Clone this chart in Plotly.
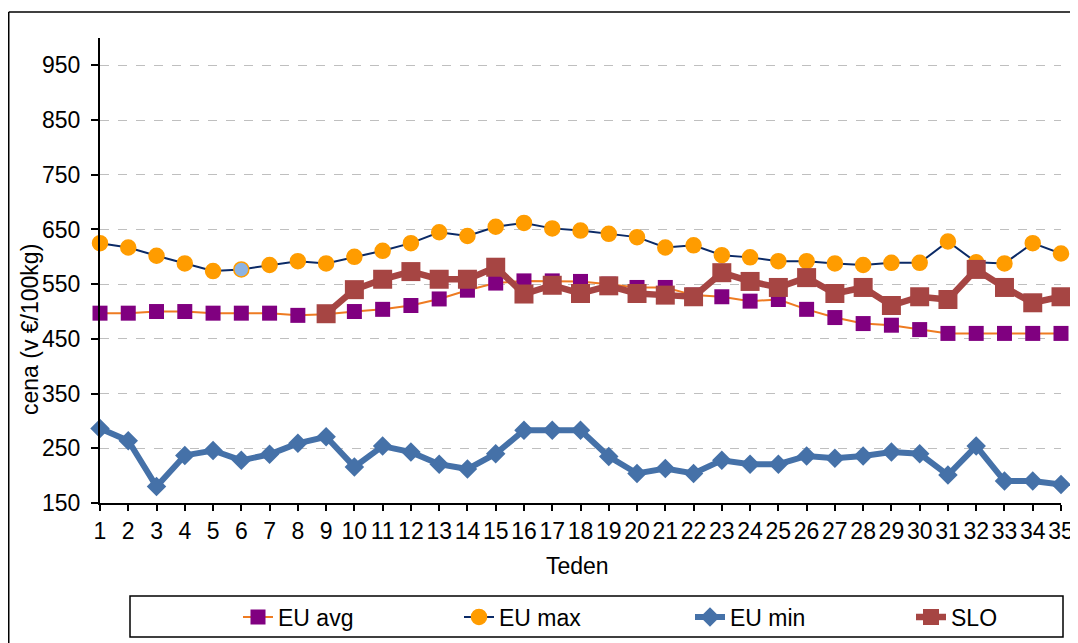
import plotly.graph_objects as go

weeks = list(range(1, 36))
week_labels = [str(w) for w in weeks]

eu_avg = [497, 497, 500, 500, 497, 497, 497, 493, 495, 500,
          504, 511, 523, 539, 552, 556, 556, 555, 550, 544,
          544, 530, 527, 519, 522, 504, 489, 478, 475, 467,
          460, 460, 460, 460, 460]

eu_max = [625, 617, 602, 588, 574, 577, 585, 592, 588, 600,
          611, 625, 645, 638, 655, 662, 652, 648, 642, 636,
          617, 621, 603, 599, 592, 592, 588, 585, 589, 589,
          628, 590, 588, 625, 606]

eu_min = [286, 264, 180, 237, 246, 228, 239, 259, 271, 216,
          254, 243, 221, 212, 240, 283, 283, 283, 235, 204,
          213, 204, 228, 221, 221, 236, 232, 236, 243, 240,
          201, 254, 190, 190, 184]

slo = [None, None, None, None, None, None, None, None, 496, 540,
       559, 573, 559, 559, 581, 532, 548, 533, 547, 533,
       530, 527, 571, 555, 544, 562, 533, 544, 511, 527,
       522, 577, 544, 516, 527]

y_ticks = [150, 250, 350, 450, 550, 650, 750, 850, 950]

FONT = "Liberation Sans, Arial, sans-serif"
FS = 23

max_colors = ["#FF9C00"] * len(weeks)
max_colors[5] = "#8DB3E2"

# page body has an 8px margin; lay out in page pixels and shift
OFF = 8
W, H = 1078 - OFF, 643 - OFF
L, R, T, B = 100 - OFF, 17, 38 - OFF, 140
pw = W - L - R
ph = H - T - B


def px(xp):
    return (xp - OFF - L) / pw


def py(yp):
    return (H - B - (yp - OFF)) / ph


fig = go.Figure()
fig.add_trace(go.Scatter(
    x=weeks, y=eu_avg, name="EU avg", mode="lines+markers", legend="legend",
    line=dict(color="#EE7B22", width=2),
    marker=dict(symbol="square", size=15, color="#800080"),
    cliponaxis=False))
fig.add_trace(go.Scatter(
    x=weeks, y=eu_max, name="EU max", mode="lines+markers", legend="legend2",
    line=dict(color="#0B2A66", width=2),
    marker=dict(symbol="circle", size=15, color=max_colors,
                line=dict(color="#FF9C00", width=1.5)),
    cliponaxis=False))
fig.add_trace(go.Scatter(
    x=weeks, y=eu_min, name="EU min", mode="lines+markers", legend="legend3",
    line=dict(color="#4571A8", width=6),
    marker=dict(symbol="diamond", size=15, color="#4571A8"),
    cliponaxis=False))
fig.add_trace(go.Scatter(
    x=weeks, y=slo, name="SLO", mode="lines+markers", legend="legend4",
    line=dict(color="#A64543", width=6.5),
    marker=dict(symbol="square", size=19, color="#A64543"),
    cliponaxis=False))


def leg(text_x):
    return dict(orientation="h", x=px(text_x - 40), xanchor="left",
                y=py(617), yanchor="middle",
                bgcolor="rgba(0,0,0,0)", borderwidth=0,
                font=dict(family=FONT, size=FS, color="black"))


fig.update_layout(
    width=W, height=H,
    margin=dict(l=L, r=R, t=T, b=B, autoexpand=False),
    paper_bgcolor="white", plot_bgcolor="white",
    font=dict(family=FONT, size=FS, color="black"),
    showlegend=True,
    legend=leg(278), legend2=leg(499), legend3=leg(730), legend4=leg(951),
    xaxis=dict(
        range=[1, 35], tickmode="array", tickvals=weeks, ticktext=week_labels,
        tickangle=0, showgrid=False, zeroline=False,
        showline=True, linecolor="black", linewidth=2,
        ticks="outside", ticklen=6, tickwidth=2, tickcolor="black",
        ticklabelstandoff=0,
        tickfont=dict(family=FONT, size=FS, color="black")),
    yaxis=dict(
        range=[150, 1000], tickmode="array", tickvals=y_ticks,
        showgrid=True, gridcolor="#BFBFBF", griddash="dash", gridwidth=1.3,
        zeroline=False, showline=True, linecolor="black", linewidth=2,
        ticks="outside", ticklen=7, tickwidth=2, tickcolor="black",
        ticklabelstandoff=6,
        tickfont=dict(family=FONT, size=FS, color="black")),
    annotations=[
        dict(text="Teden", xref="paper", yref="paper", x=px(577), y=py(566),
             showarrow=False, xanchor="center", yanchor="middle",
             font=dict(family=FONT, size=FS, color="black")),
        dict(text="cena (v €/100kg)", xref="paper", yref="paper",
             x=px(30), y=py(330), textangle=-90, showarrow=False,
             xanchor="center", yanchor="middle",
             font=dict(family=FONT, size=FS, color="black")),
    ],
    shapes=[
        dict(type="rect", xref="paper", yref="paper",
             x0=px(130), x1=px(1063), y0=py(637), y1=py(596),
             line=dict(color="black", width=1.5), fillcolor="rgba(0,0,0,0)"),
        dict(type="line", xref="paper", yref="paper",
             x0=px(OFF + 0.75), x1=px(1090), y0=py(12), y1=py(12),
             line=dict(color="black", width=1.5)),
        dict(type="line", xref="paper", yref="paper",
             x0=px(OFF + 0.75), x1=px(OFF + 0.75), y0=py(12), y1=py(660),
             line=dict(color="black", width=1.5)),
    ],
)

fig.write_html("out.html")
